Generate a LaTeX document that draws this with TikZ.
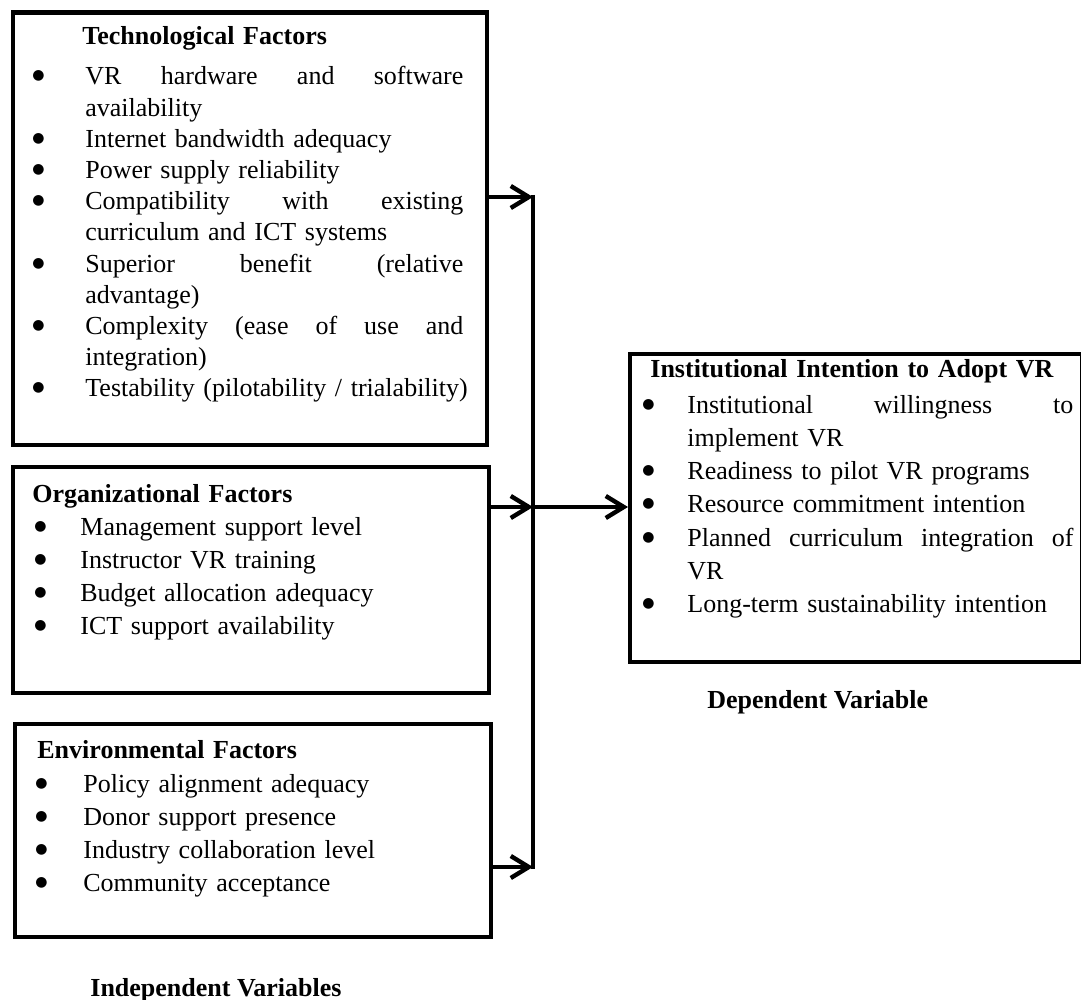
\documentclass[tikz,border=0pt]{standalone}
\usepackage{fontspec}
\setmainfont{Liberation Serif}
\newfontfamily\dotfont{DejaVu Sans}
\usetikzlibrary{arrows.meta}

\newlength{\bind}
\newlength{\tind}
\newcommand{\itm}{\hspace*{\bind}\makebox[\dimexpr\tind-\bind\relax][l]{\raisebox{2.5pt}{\dotfont\fontsize{7}{0}\selectfont ●}}}
\newcommand{\cont}{\hspace*{\tind}}
\newcommand{\spread}[2]{\makebox[#1][l]{#2}}

\tikzset{
    factor/.style={draw, line width=2.2pt, inner sep=0pt, anchor=north west},
    itemlist/.style={anchor=base west, inner sep=0pt, text width=260pt, align=left,
        font=\fontsize{13}{16.6}\selectfont},
    varlabel/.style={anchor=base west, inner sep=0pt, font=\fontsize{13}{16.6}\selectfont\bfseries},
    link/.style={line width=2.2pt, -{Straight Barb[length=9pt,width=11pt]}},
    bus/.style={line width=2.2pt}
}

\begin{document}
\begin{tikzpicture}[x=0.5pt, y=-0.5pt]
        \useasboundingbox (0,0) rectangle (1081,1000);
%	boxes
        \node[factor, minimum width=237.25pt, minimum height=216.25pt] (tech) at (10.5,10.5) {};
        \node[factor, minimum width=238.25pt, minimum height=113pt] (org) at (10.5,465) {};
        \node[factor, minimum width=238pt, minimum height=106.5pt] (env) at (13,722) {};
        \node[factor, minimum width=225.75pt, minimum height=154pt] (intent) at (628,352) {};
%	lists
        \node[itemlist, font=\fontsize{13}{15.6}\selectfont] (techlist) at (32,45) {\setlength{\bind}{0pt}\setlength{\tind}{26.5pt}%
            \hspace*{25pt}\textbf{Technological Factors}\\[4.4pt]
            \itm\spread{189pt}{VR\hfill hardware\hfill and\hfill software}\\
            \cont availability\\
            \itm Internet bandwidth adequacy\\
            \itm Power supply reliability\\
            \itm\spread{189pt}{Compatibility\hfill with\hfill existing}\\
            \cont curriculum and ICT systems\\
            \itm\spread{189pt}{Superior\hfill benefit\hfill (relative}\\
            \cont advantage)\\
            \itm\spread{189pt}{Complexity\hfill (ease\hfill of\hfill use\hfill and}\\
            \cont integration)\\
            \itm Testability (pilotability / trialability)};
        \node[itemlist] (orglist) at (32,502) {\setlength{\bind}{1pt}\setlength{\tind}{24pt}%
            \textbf{Organizational Factors}\\
            \itm Management support level\\
            \itm Instructor VR training\\
            \itm Budget allocation adequacy\\
            \itm ICT support availability};
        \node[itemlist] (envlist) at (35,758) {\setlength{\bind}{0pt}\setlength{\tind}{24pt}%
            \hspace*{1pt}\textbf{Environmental Factors}\\[0.5pt]
            \itm Policy alignment adequacy\\
            \itm Donor support presence\\
            \itm Industry collaboration level\\
            \itm Community acceptance};
        \node[itemlist] (intentlist) at (642,377) {\setlength{\bind}{0pt}\setlength{\tind}{22.5pt}%
            \hspace*{4pt}\textbf{Institutional Intention to Adopt VR}\\[1.5pt]
            \itm\spread{193pt}{Institutional\hfill willingness\hfill to}\\
            \cont implement VR\\
            \itm Readiness to pilot VR programs\\
            \itm Resource commitment intention\\
            \itm\spread{193pt}{Planned\hfill curriculum\hfill integration\hfill of}\\
            \cont VR\\
            \itm Long-term sustainability intention};
%	variable labels
        \node[varlabel] (indep) at (90,996) {Independent Variables};
        \node[varlabel] (dep) at (707,708) {Dependent Variable};
%	connectors
        \coordinate (jt) at (533,197);
        \coordinate (jo) at (533,507);
        \coordinate (je) at (533,867);
        \draw[bus] ([yshift=1.1pt]jt) -- ([yshift=-1.1pt]je);
        \draw[link] (tech.east |- jt) -- (jt);
        \draw[link] (org.east |- jo) -- (jo);
        \draw[link] (env.east |- je) -- (je);
        \draw[link] (jo) -- (intent.west |- jo);
\end{tikzpicture}
\end{document}
